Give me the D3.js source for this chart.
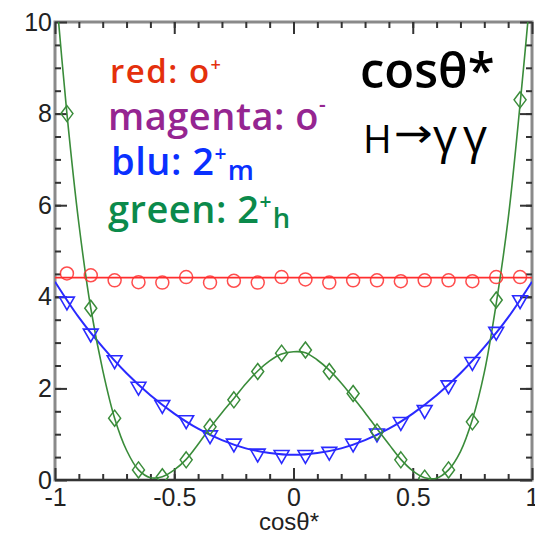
<!DOCTYPE html>
<html>
<head>
<meta charset="utf-8">
<script src="https://cdn.jsdelivr.net/npm/d3@7"></script>
<style>
  html, body { margin: 0; padding: 0; background: #fff; }
  svg { display: block; }
</style>
</head>
<body>
<svg id="chart" width="535" height="537"></svg>
<script>
// ---------------- data ----------------
const binCenters = [-0.95, -0.85, -0.75, -0.65, -0.55, -0.45, -0.35, -0.25, -0.15, -0.05,
                     0.05,  0.15,  0.25,  0.35,  0.45,  0.55,  0.65,  0.75,  0.85,  0.95];
// red: 0+ (open circles)
const redPoints = [4.51, 4.47, 4.36, 4.32, 4.31, 4.43, 4.31, 4.35, 4.31, 4.43,
                   4.38, 4.31, 4.36, 4.36, 4.34, 4.36, 4.36, 4.34, 4.43, 4.43];
const redFitX = [-1, 1];
const redFitY = [4.42, 4.42];
// blu: 2+m (open down-triangles)
const bluePoints = [3.90, 3.20, 2.62, 2.04, 1.64, 1.31, 0.98, 0.80, 0.58, 0.55,
                    0.55, 0.62, 0.80, 1.02, 1.27, 1.53, 2.07, 2.58, 3.24, 3.93];
const blueFitX = [-1, -0.9, -0.8, -0.7, -0.6, -0.5, -0.4, -0.3, -0.2, -0.1, 0,
                   0.1, 0.2, 0.3, 0.4, 0.5, 0.6, 0.7, 0.8, 0.9, 1];
const blueFitY = [4.33, 3.55, 2.90, 2.33, 1.85, 1.45, 1.12, 0.87, 0.69, 0.59, 0.55,
                  0.59, 0.69, 0.87, 1.12, 1.45, 1.85, 2.33, 2.90, 3.55, 4.33];
// green: 2+h (open diamonds)
const greenPoints = [8.00, 3.75, 1.35, 0.22, 0.07, 0.44, 1.16, 1.75, 2.37, 2.77,
                     2.84, 2.37, 1.89, 1.05, 0.44, 0.04, 0.22, 1.27, 3.93, 8.30];
const greenFitX = [-1, -0.95, -0.9, -0.85, -0.8, -0.75, -0.7, -0.65, -0.6, -0.55, -0.5,
                   -0.45, -0.4, -0.35, -0.3, -0.25, -0.2, -0.15, -0.1, -0.05, 0,
                    0.05, 0.1, 0.15, 0.2, 0.25, 0.3, 0.35, 0.4, 0.45, 0.5,
                    0.55, 0.6, 0.65, 0.7, 0.75, 0.8, 0.85, 0.9, 0.95, 1];
const greenFitY = [10.9, 8.0, 5.6, 3.75, 2.4, 1.35, 0.65, 0.22, 0.05, 0.07, 0.22,
                   0.45, 0.78, 1.14, 1.47, 1.78, 2.10, 2.38, 2.60, 2.75, 2.80,
                   2.78, 2.62, 2.40, 2.12, 1.80, 1.47, 1.12, 0.78, 0.45, 0.20,
                   0.05, 0.04, 0.22, 0.62, 1.32, 2.35, 3.85, 5.7, 8.2, 11.0];

const xMajorTicks = [-1, -0.5, 0, 0.5, 1];
const xTickLabels = ["-1", "-0.5", "0", "0.5", "1"];
const yMajorTicks = [0, 2, 4, 6, 8, 10];
const yTickLabels = ["0", "2", "4", "6", "8", "10"];
const xMinorTicks = d3.range(-9, 10).map(i => i / 10);
const yMinorTicks = d3.range(1, 20).map(i => i / 2);

// ---------------- chart ----------------
const svg = d3.select("#chart");
const L = 55, R = 532, T = 22, B = 480;
const x = d3.scaleLinear().domain([-1, 1]).range([L, R]);
const y = d3.scaleLinear().domain([0, 10]).range([B, T]);

const tickFont = "'Liberation Sans', Arial, sans-serif";

// frame
svg.append("rect").attr("x", L).attr("y", T).attr("width", R - L).attr("height", B - T)
  .attr("fill", "none").attr("stroke", "#8a8a8a").attr("stroke-width", 3);
svg.append("line").attr("x1", L).attr("x2", R).attr("y1", B).attr("y2", B)
  .attr("stroke", "#333").attr("stroke-width", 2);

function styleAxis(g) {
  g.select(".domain").remove();
  g.selectAll(".tick line").attr("stroke", "#333").attr("stroke-width", 2);
  g.selectAll(".tick text").attr("fill", "#222").style("font-family", tickFont).style("font-size", "25px");
}
// bottom
svg.append("g").attr("transform", `translate(0,${B})`)
  .call(d3.axisBottom(x).tickValues(xMinorTicks).tickSizeInner(-6).tickSizeOuter(0).tickFormat(""))
  .call(styleAxis);
svg.append("g").attr("transform", `translate(0,${B})`)
  .call(d3.axisBottom(x).tickValues(xMajorTicks).tickSizeInner(-12).tickSizeOuter(0).tickPadding(8)
        .tickFormat((d, i) => xTickLabels[i]))
  .call(styleAxis);
// top
svg.append("g").attr("transform", `translate(0,${T})`)
  .call(d3.axisTop(x).tickValues(xMinorTicks).tickSizeInner(-6).tickSizeOuter(0).tickFormat(""))
  .call(styleAxis);
svg.append("g").attr("transform", `translate(0,${T})`)
  .call(d3.axisTop(x).tickValues(xMajorTicks).tickSizeInner(-12).tickSizeOuter(0).tickFormat(""))
  .call(styleAxis);
// left
svg.append("g").attr("transform", `translate(${L},0)`)
  .call(d3.axisLeft(y).tickValues(yMinorTicks).tickSizeInner(-6).tickSizeOuter(0).tickFormat(""))
  .call(styleAxis);
svg.append("g").attr("transform", `translate(${L},0)`)
  .call(d3.axisLeft(y).tickValues(yMajorTicks).tickSizeInner(-12).tickSizeOuter(0).tickPadding(3)
        .tickFormat((d, i) => yTickLabels[i]))
  .call(styleAxis);
// right
svg.append("g").attr("transform", `translate(${R},0)`)
  .call(d3.axisRight(y).tickValues(yMinorTicks).tickSizeInner(-6).tickSizeOuter(0).tickFormat(""))
  .call(styleAxis);
svg.append("g").attr("transform", `translate(${R},0)`)
  .call(d3.axisRight(y).tickValues(yMajorTicks).tickSizeInner(-12).tickSizeOuter(0).tickFormat(""))
  .call(styleAxis);

// x axis title
svg.append("text").attr("x", 289).attr("y", 530).attr("text-anchor", "middle")
  .style("font-family", tickFont).style("font-size", "24px").attr("fill", "#222")
  .text("cosθ*");

// clip
svg.append("clipPath").attr("id", "plotclip").append("rect")
  .attr("x", L).attr("y", T).attr("width", R - L).attr("height", B - T);
const plot = svg.append("g").attr("clip-path", "url(#plotclip)");

const line = d3.line().x(d => x(d[0])).y(d => y(d[1])).curve(d3.curveCatmullRom.alpha(0.5));

const RED = "#ff2e2e", BLUE = "#2a2aff", GREEN = "#3a8c3a";

plot.append("path").datum(d3.zip(redFitX, redFitY)).attr("d", line)
  .attr("fill", "none").attr("stroke", RED).attr("stroke-width", 1.8);
plot.append("path").datum(d3.zip(blueFitX, blueFitY)).attr("d", line)
  .attr("fill", "none").attr("stroke", BLUE).attr("stroke-width", 2);
plot.append("path").datum(d3.zip(greenFitX, greenFitY)).attr("d", line)
  .attr("fill", "none").attr("stroke", GREEN).attr("stroke-width", 1.6);

// markers
plot.selectAll("circle.red").data(d3.zip(binCenters, redPoints)).join("circle")
  .attr("class", "red").attr("cx", d => x(d[0])).attr("cy", d => y(d[1])).attr("r", 6.5)
  .attr("fill", "none").attr("stroke", RED).attr("stroke-width", 1.5).attr("stroke-opacity", 0.85);

const tri = d3.symbol().type(d3.symbolTriangle).size(95);
plot.selectAll("path.blue").data(d3.zip(binCenters, bluePoints)).join("path")
  .attr("class", "blue").attr("d", tri)
  .attr("transform", d => `translate(${x(d[0])},${y(d[1])}) rotate(180)`)
  .attr("fill", "none").attr("stroke", BLUE).attr("stroke-width", 1.6);

const diamond = "M0,-8L6,0L0,8L-6,0Z";
plot.selectAll("path.green").data(d3.zip(binCenters, greenPoints)).join("path")
  .attr("class", "green").attr("d", diamond)
  .attr("transform", d => `translate(${x(d[0])},${y(d[1])})`)
  .attr("fill", "none").attr("stroke", GREEN).attr("stroke-width", 1.5);

// legend text
const legFont = "'Open Sans', 'Noto Sans', sans-serif";
function legend(xp, yp, color, size, spacing, main, supText, supDy, subText) {
  const t = svg.append("text").attr("x", xp).attr("y", yp).attr("fill", color)
    .style("font-family", legFont).style("font-weight", 600).style("font-size", size + "px")
    .style("letter-spacing", spacing + "px");
  t.append("tspan").text(main);
  t.append("tspan").attr("dy", supDy).style("font-size", (size * 0.55) + "px").text(supText);
  if (subText) {
    t.append("tspan").attr("dy", -supDy + 5).attr("dx", 1).style("font-size", (size * 0.72) + "px").text(subText);
  }
}
legend(110, 83, "#e4300c", 33, 1.5, "red: o", "+", -12, null);
legend(108, 130, "#952591", 38, 0.5, "magenta: o", "-", -18, null);
legend(111, 175, "#0a30ff", 38, 0.5, "blu: 2", "+", -14, "m");
legend(108, 223, "#0b8a4b", 38, 0.5, "green: 2", "+", -14, "h");

// title labels
svg.append("text").attr("x", 360).attr("y", 88)
  .style("font-family", legFont).style("font-weight", 600).style("font-size", "49px")
  .attr("fill", "#000").text("cosθ*");
const hg = svg.append("text").attr("y", 153).attr("fill", "#000")
  .style("font-family", legFont).style("font-size", "39px");
hg.append("tspan").attr("x", 363).text("H");
hg.append("tspan").attr("x", 394).attr("y", 147).style("font-family", "'DejaVu Sans', sans-serif")
  .style("font-size", "40px").attr("textLength", 39).attr("lengthAdjust", "spacingAndGlyphs").text("→");
hg.append("tspan").attr("x", 433).attr("y", 153).style("font-size", "47px")
  .style("letter-spacing", "6px").text("γγ");
</script>
</body>
</html>
